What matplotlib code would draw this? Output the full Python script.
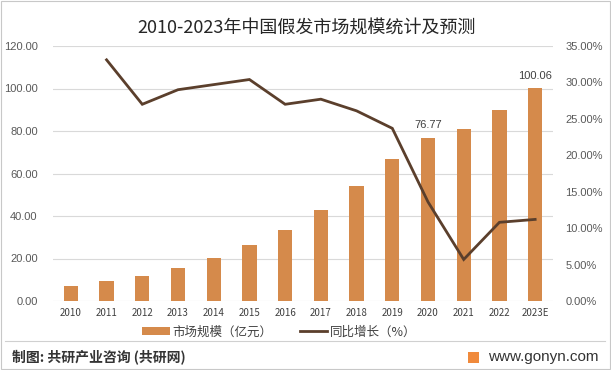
import matplotlib
matplotlib.use("Agg")
import matplotlib.pyplot as plt
from matplotlib.patches import Rectangle, Patch
from matplotlib.lines import Line2D
import numpy as np

plt.rcParams['font.family'] = ['Noto Sans CJK SC', 'DejaVu Sans']

years = ['2010', '2011', '2012', '2013', '2014', '2015', '2016',
         '2017', '2018', '2019', '2020', '2021', '2022', '2023E']
market = [7.1, 9.6, 11.9, 15.5, 20.2, 26.3, 33.4, 42.8, 54.2, 66.8, 76.77, 80.9, 89.9, 100.06]
growth_years = years[1:]
growth = [33.1, 27.0, 29.0, 29.7, 30.4, 27.0, 27.7, 26.1, 23.7, 13.6, 5.7, 10.8, 11.2]
labeled = {'2020': 76.77, '2023E': 100.06}

left_ticks = [0, 20, 40, 60, 80, 100, 120]
right_ticks = [0, 5, 10, 15, 20, 25, 30, 35]

BAR = '#D58A4B'
LINE = '#5B3F2C'
GRID = '#D9D9D9'
TXT = '#595959'

W, H = 611, 370
fig = plt.figure(figsize=(W / 100, H / 100), dpi=100)
fig.patch.set_facecolor('white')

ax = fig.add_axes([53 / W, 1 - 301 / H, 500 / W, 255 / H])
x = np.arange(len(years))
ax.bar(x, market, width=0.4, color=BAR, zorder=2)
ax.set_xlim(-0.5, len(years) - 0.5)
ax.set_ylim(0, 120)
ax.set_yticks(left_ticks)
ax.set_yticklabels([f'{v:.2f}' for v in left_ticks], fontsize=8,
                   color=TXT, family=['Liberation Sans', 'DejaVu Sans'])
ax.set_xticks(x)
ax.set_xticklabels(years, fontsize=7, color='#404040')
ax.tick_params(axis='both', length=0)
ax.tick_params(axis='y', pad=11)
ax.tick_params(axis='x', pad=5)
ax.grid(axis='y', color=GRID, linewidth=0.8, zorder=0)
ax.set_axisbelow(True)
for s in ax.spines.values():
    s.set_visible(False)

for i, y in enumerate(years):
    if y in labeled:
        ax.text(i, market[i] + 3.5, f'{labeled[y]:.2f}', ha='center', va='bottom',
                fontsize=8, color='#404040', family=['Liberation Sans', 'DejaVu Sans'])

ax2 = ax.twinx()
gx = [years.index(y) for y in growth_years]
ax2.plot(gx, growth, color=LINE, linewidth=2.0, zorder=3, solid_joinstyle='miter')
ax2.set_ylim(0, 35)
ax2.set_yticks(right_ticks)
ax2.set_yticklabels([f'{v:.2f}%' for v in right_ticks], fontsize=8,
                    color=TXT, family=['Liberation Sans', 'DejaVu Sans'])
ax2.tick_params(axis='y', length=0, pad=9)
for s in ax2.spines.values():
    s.set_visible(False)

fig.text(307 / W, 1 - 28 / H, '2010-2023年中国假发市场规模统计及预测', ha='center',
         va='center', fontsize=13, color='#262626')

handles = [Patch(facecolor=BAR, edgecolor='none'),
           Line2D([0], [0], color=LINE, linewidth=2.0)]
fig.legend(handles, ['市场规模（亿元）', '同比增长（%）'], loc='center',
           bbox_to_anchor=(279 / W, 1 - 332 / H), ncol=2, frameon=False,
           fontsize=9, handlelength=2.2, handleheight=0.6, columnspacing=2.2,
           handletextpad=0.2, labelcolor='#404040')

# separator line and frame
fig.add_artist(Line2D([5 / W, 605 / W], [1 - 341 / H, 1 - 341 / H],
                      color='#D0D0D0', linewidth=0.8))
fig.add_artist(Rectangle((1 / W, 1 / H), 1 - 2 / W, 1 - 2 / H, fill=False,
                         edgecolor='#C8C8C8', linewidth=0.8))

fig.text(12 / W, 1 - 357 / H, '制图: 共研产业咨询 (共研网)', ha='left', va='center',
         fontsize=10, color='#333333', fontweight='bold')
fig.add_artist(Rectangle((468 / W, 1 - 363 / H), 11 / W, 11 / H,
                         facecolor='#F08A3C', edgecolor='none'))
fig.text(488 / W, 1 - 357 / H, 'www.gonyn.com', ha='left', va='center',
         fontsize=11, color='#333333', family=['Liberation Sans', 'DejaVu Sans'])

fig.savefig('out.png', dpi=100)
